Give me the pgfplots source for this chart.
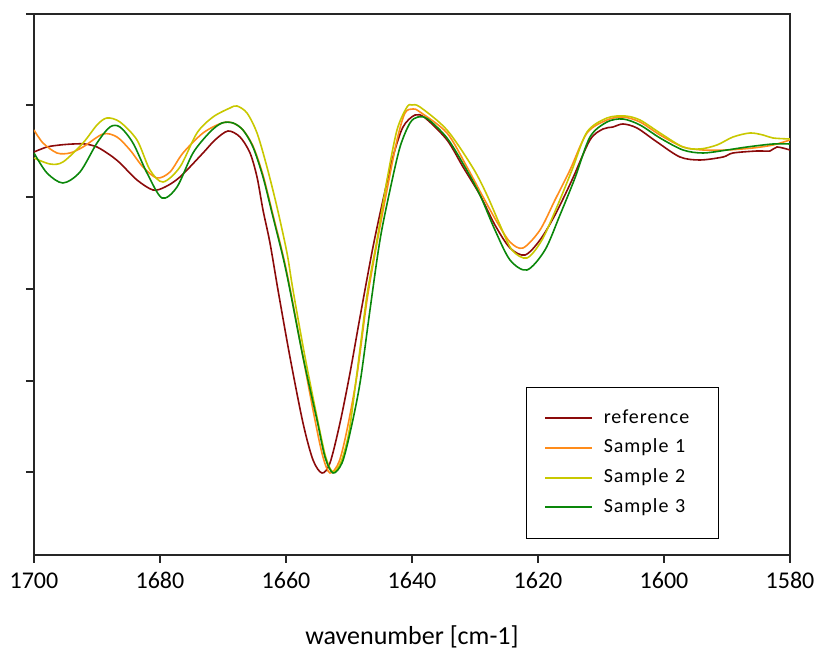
\documentclass[border=0pt]{standalone}
\usepackage{pgfplots}
\pgfplotsset{compat=1.18}
\usepackage{pgfplotstable}
\usepackage{fontspec}
\setmainfont{Carlito}

\pgfplotstableread{
x y
1700 403
1697.94 408
1695.87 410
1693.81 411
1691.9 411
1690.00 408
1687.94 400
1686.35 392
1683.65 375
1681.11 365
1679.2 368
1676.83 378
1673.17 402
1671.27 415
1669.21 424
1667.30 418
1665.71 402
1664.60 378
1663.65 345
1662.54 312
1661.27 265
1659.37 198
1657.30 132
1655.71 95
1654.29 82
1653.02 92
1651.43 132
1649.84 182
1648.25 238
1646.19 308
1644.60 355
1643.02 398
1641.43 428
1639.52 440
1637.9 437
1634.44 415
1631.90 388
1629.21 360
1626.83 330
1624.44 307
1622.06 300
1619.68 315
1617.30 340
1614.6 375
1611.75 415
1609.68 426
1608.10 428
1606.51 431
1604.29 427
1601.11 413
1597.46 398
1594.29 395
1590.63 398
1589.05 402
1585.24 404
1583.17 404
1582.06 408
1580 405
}\refdata

\pgfplotstableread{
x y
1700 425
1698.57 412
1696.35 402
1694.29 402
1692.22 408
1689.05 421
1686.83 418
1684.76 405
1682.70 388
1680.48 377
1678.41 383
1676.35 402
1673.17 422
1670.16 432
1668.41 432
1666.83 425
1665.24 409
1663.65 380
1662.06 340
1660.48 300
1659.37 267
1657.30 198
1655.40 135
1654.13 98
1653.02 82
1651.59 93
1650.32 125
1648.73 180
1647.14 255
1645.56 312
1643.97 365
1642.38 415
1641.11 442
1639.84 446
1638.73 443
1634.44 422
1631.27 388
1628.89 360
1626.51 333
1624.44 313
1622.38 307
1619.68 325
1617.30 355
1614.92 385
1612.22 422
1609.05 435
1606.51 438
1603.81 433
1600.63 420
1596.98 408
1593.81 405
1589.99 405
1585.87 407
1582.70 410
1580 415
}\sampleone

\pgfplotstableread{
x y
1700 397
1697.46 391
1695.40 393
1692.22 412
1690.00 430
1688.41 437
1686.35 433
1683.65 415
1681.59 385
1679.52 373
1676.83 388
1674.13 422
1671.59 438
1668.89 447
1667.78 449
1666.19 442
1664.60 422
1663.02 388
1661.43 348
1659.84 302
1658.89 265
1656.98 198
1654.92 133
1653.65 97
1652.54 83
1651.27 93
1650.00 123
1648.73 182
1647.14 260
1645.56 315
1643.97 375
1642.38 425
1640.79 448
1640.00 450
1638.73 448
1634.44 425
1630.32 387
1628.10 360
1626.03 330
1624.13 305
1621.75 297
1619.37 315
1617.0 348
1614.6 385
1612.22 423
1609.05 437
1606.19 439
1603.81 435
1600.63 422
1596.98 408
1594.29 406
1591.59 410
1589.05 418
1586.35 422
1584.29 420
1582.70 417
1580 416
}\sampletwo

\pgfplotstableread{
x y
1700 402
1697.94 382
1695.40 372
1692.70 383
1690.00 412
1687.94 428
1686.35 428
1684.29 412
1682.06 382
1679.68 357
1677.30 368
1674.76 402
1672.06 423
1670.16 432
1668.41 432
1666.83 425
1665.24 408
1663.65 378
1662.06 338
1660.48 298
1659.37 265
1657.30 198
1655.08 135
1653.81 98
1652.54 82
1651.11 92
1649.84 122
1648.25 172
1646.67 245
1645.08 315
1643.49 365
1641.90 408
1640.32 432
1639.05 438
1637.5 436
1634.44 417
1631.59 388
1629.21 360
1626.83 325
1624.44 295
1621.75 285
1618.89 305
1616.51 340
1614.13 377
1611.75 418
1609.05 433
1606.51 436
1603.81 430
1600.63 417
1596.98 405
1593.81 402
1589.99 405
1586.83 408
1582.70 411
1580 411
}\samplethree

\definecolor{cref}{HTML}{8B0A0A}
\definecolor{cone}{HTML}{FF8C1A}
\definecolor{ctwo}{HTML}{C8C800}
\definecolor{cthree}{HTML}{0A870A}

\begin{document}
\begin{tikzpicture}
\begin{axis}[
  scale only axis, width=756pt, height=541pt,
  xmin=1580, xmax=1700, x dir=reverse,
  ymin=0, ymax=541,
  xtick={1580,1600,...,1700},
  ytick={83,174,266,358,450,541}, yticklabels={},
  tick pos=left, tick align=outside,
  major tick length=8pt,
  axis line style={black!85, line width=1.5pt},
  every tick/.style={black!85, line width=1.5pt},
  /pgf/number format/assume math mode=true,
  /pgf/number format/1000 sep={},
  xticklabel style={font=\fontsize{24}{28}\selectfont, yshift=-6pt},
  xlabel={wavenumber [cm-1]},
  xlabel style={font=\fontsize{26}{30}\selectfont, yshift=-30pt},
  legend cell align=left,
  legend image code/.code={\fill[#1, draw=none] (0pt,-1pt) rectangle (47pt,1pt);},
  legend style={at={(0.651,0.0296)}, anchor=south west, draw=black, line width=1.2pt,
    inner xsep=18pt, inner ysep=23pt, row sep=13.7pt, column sep=12pt,
    font=\fontsize{20}{24}\selectfont\addfontfeature{LetterSpace=5},
    nodes={inner sep=0pt, text height=13pt, text depth=3pt, text width=97pt, align=left}},
  every axis plot/.append style={line width=1.6pt, smooth, tension=0.5, no markers},
]
\addplot[cref] table {\refdata};
\addlegendentry{reference}
\addplot[cone] table {\sampleone};
\addlegendentry{Sample 1}
\addplot[ctwo] table {\sampletwo};
\addlegendentry{Sample 2}
\addplot[cthree] table {\samplethree};
\addlegendentry{Sample 3}
\end{axis}
\pgfresetboundingbox
\path (current axis.south west) +(-34pt,-95pt) (current axis.north east) +(24pt,14pt);
\end{tikzpicture}
\end{document}
